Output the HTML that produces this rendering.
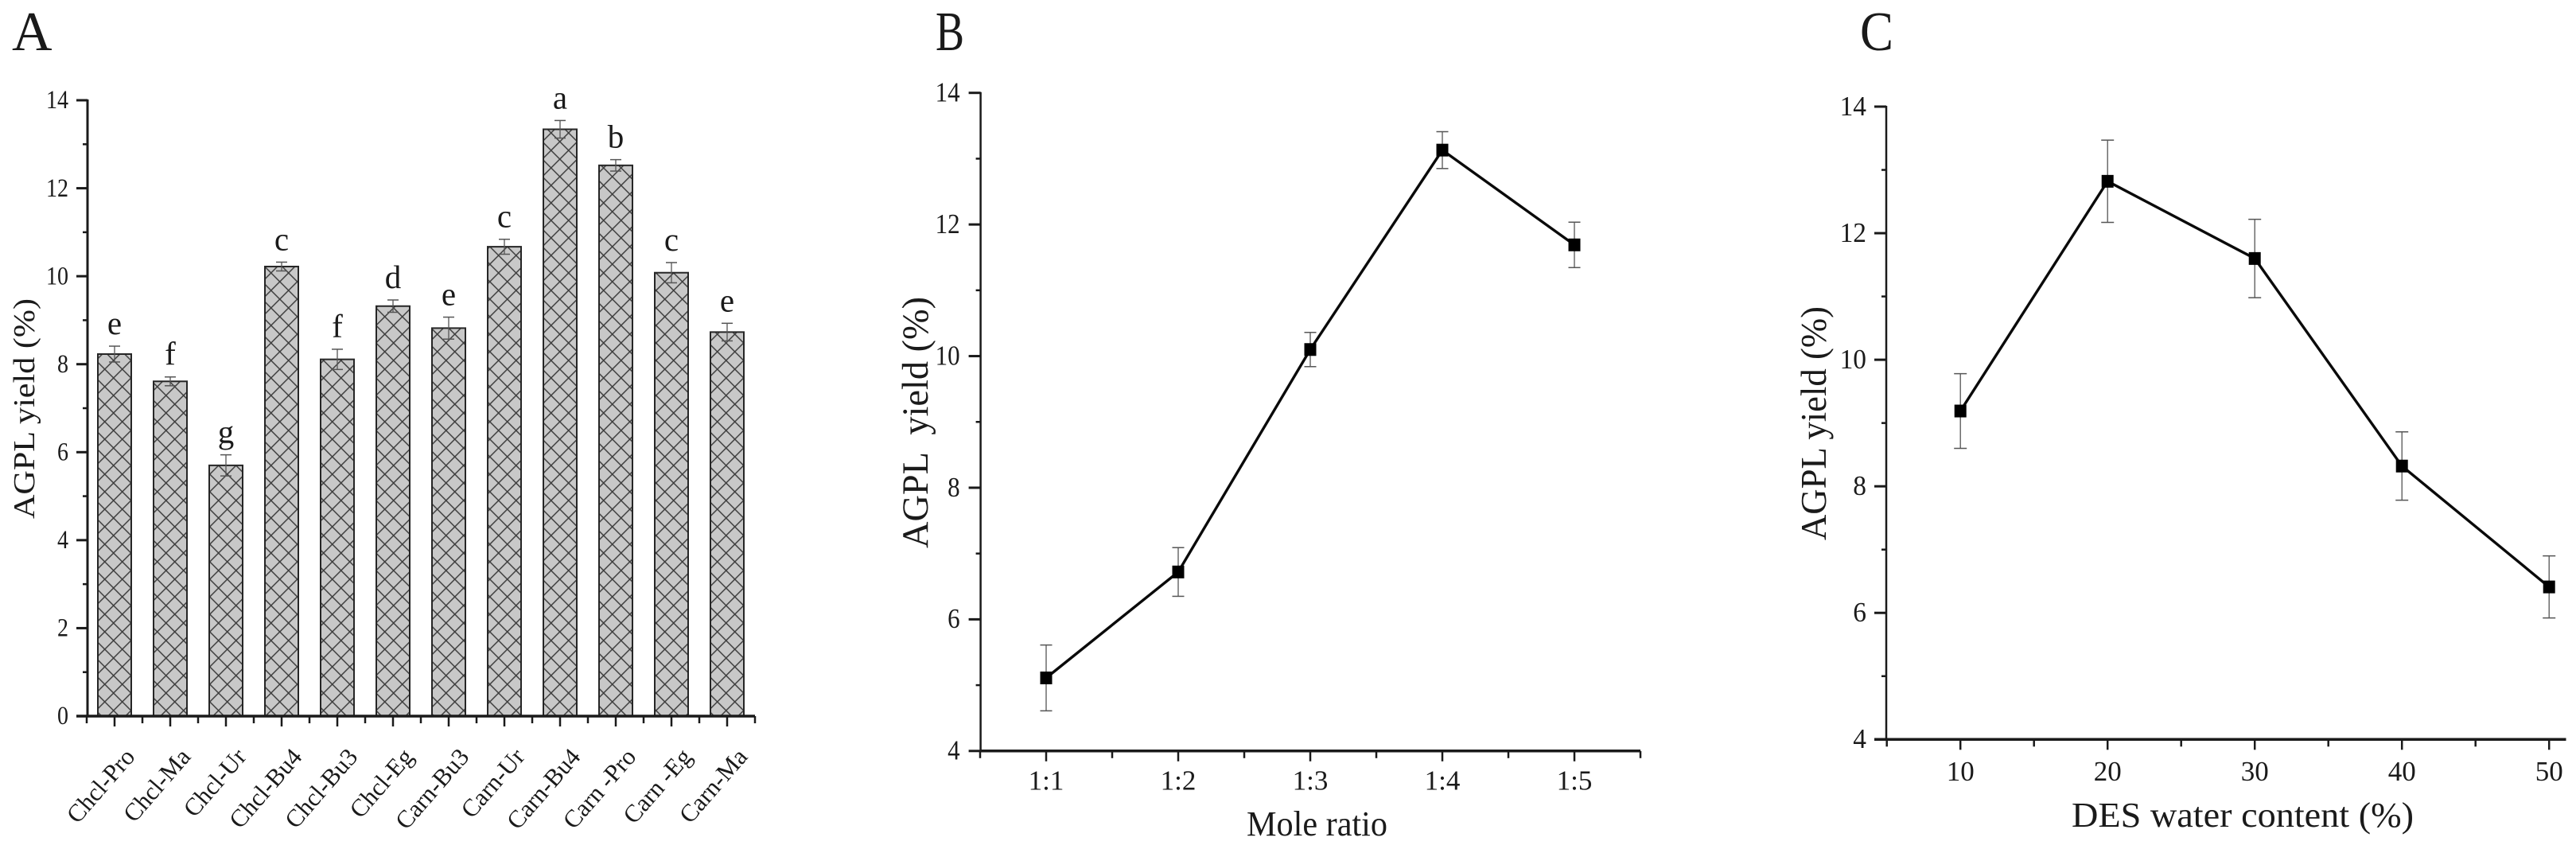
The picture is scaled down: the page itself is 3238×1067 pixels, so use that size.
<!DOCTYPE html>
<html>
<head>
<meta charset="utf-8">
<title>AGPL yield charts</title>
<style>
html,body{margin:0;padding:0;background:#fff;}
svg{display:block;}
text{font-family:"Liberation Serif",serif;fill:#1a1a1a;}
</style>
</head>
<body>
<svg id="figure" width="3238" height="1067" viewBox="0 0 3238 1067" xmlns="http://www.w3.org/2000/svg">
  <defs>
    <pattern id="hatch" patternUnits="userSpaceOnUse" x="131.7" y="794" width="22" height="22">
      <rect width="22" height="22" fill="#c8c8c8"></rect>
      <path d="M-2,-2 L24,24 M24,-2 L-2,24" stroke="#3c3c3c" stroke-width="1.5" fill="none"></path>
    </pattern>
  </defs>
  <text x="15" y="63" font-size="70">A</text>
  <text x="1176" y="63" font-size="70" textLength="36" lengthAdjust="spacingAndGlyphs">B</text>
  <text x="2338" y="63" font-size="70" textLength="42" lengthAdjust="spacingAndGlyphs">C</text>
  <text transform="translate(43,652) rotate(-90)" font-size="38" textLength="277" lengthAdjust="spacingAndGlyphs">AGPL yield (%)</text>
  <text transform="translate(1166,689) rotate(-90)" font-size="47" textLength="316" lengthAdjust="spacingAndGlyphs" xml:space="preserve">AGPL  yield (%)</text>
  <text transform="translate(2295,679) rotate(-90)" font-size="45" textLength="294" lengthAdjust="spacingAndGlyphs">AGPL yield (%)</text>
  <text x="1567" y="1050" font-size="44" textLength="177" lengthAdjust="spacingAndGlyphs">Mole ratio</text>
  <text x="2604" y="1039" font-size="44" textLength="430" lengthAdjust="spacingAndGlyphs">DES water content (%)</text>
</svg>
<script>
// Panel A data
const barCategories = ["Chcl-Pro","Chcl-Ma","Chcl-Ur","Chcl-Bu4","Chcl-Bu3","Chcl-Eg","Carn-Bu3","Carn-Ur","Carn-Bu4","Carn -Pro","Carn -Eg","Carn-Ma"];
const barValues = [8.23,7.61,5.70,10.22,8.11,9.32,8.82,10.67,13.34,12.52,10.08,8.73];
const barErrors = [0.18,0.10,0.24,0.10,0.23,0.14,0.25,0.17,0.20,0.13,0.23,0.20];
const barLetters = ["e","f","g","c","f","d","e","c","a","b","c","e"];
const barYTicks = [0,2,4,6,8,10,12,14];
// Panel B data
const ratioCategories = ["1:1","1:2","1:3","1:4","1:5"];
const ratioValues = [5.11,6.72,10.10,13.13,11.69];
const ratioErrors = [0.50,0.37,0.26,0.28,0.345];
const ratioYTicks = [4,6,8,10,12,14];
// Panel C data
const waterCategories = ["10","20","30","40","50"];
const waterValues = [9.19,12.82,11.60,8.32,6.41];
const waterErrors = [0.59,0.65,0.62,0.54,0.49];
const waterYTicks = [4,6,8,10,12,14];

const svg = document.getElementById('figure');
const NS = 'http://www.w3.org/2000/svg';
function make(tag, attrs, parent) {
  const e = document.createElementNS(NS, tag);
  for (const k in attrs) e.setAttribute(k, attrs[k]);
  (parent || svg).appendChild(e);
  return e;
}
function line(x1, y1, x2, y2, color, width, parent) {
  return make('line', {x1, y1, x2, y2, stroke: color, 'stroke-width': width}, parent);
}
function label(str, x, y, size, anchor, parent) {
  const t = make('text', {x, y, 'font-size': size, 'text-anchor': anchor}, parent);
  t.textContent = str;
  return t;
}
function linearY(bottomValue, topValue, bottomPx, topPx) {
  return v => bottomPx + (v - bottomValue) * (topPx - bottomPx) / (topValue - bottomValue);
}
function bandX(firstPx, stepPx) {
  return i => firstPx + i * stepPx;
}

function drawYAxis(name, ticks, yScale, axisX, majorLen, minorLen, w, size, labelGap, textW) {
  const g = make('g', {});
  
  
  line(axisX, yScale(ticks[0]) + 1, axisX, yScale(ticks[ticks.length - 1]) - 1, '#1a1a1a', w, g);
  ticks.forEach((v, i) => {
    const y = yScale(v);
    line(axisX - majorLen, y, axisX, y, '#1a1a1a', 3, g);
    const t = label(String(v), axisX - labelGap, y + size * 0.31, size, 'end', g);
    t.setAttribute('textLength', String(v).length * textW);
    t.setAttribute('lengthAdjust', 'spacingAndGlyphs');
    if (i < ticks.length - 1) {
      const m = yScale((v + ticks[i + 1]) / 2);
      line(axisX - minorLen, m, axisX, m, '#1a1a1a', 2.5, g);
    }
  });
}

function drawXAxis(name, cats, xScale, y, leftPx, rightPx, size, baseline, step) {
  const g = make('g', {});
  
  
  line(leftPx, y, rightPx, y, '#1a1a1a', 3.5, g);
  cats.forEach((c, i) => {
    const x = xScale(i);
    line(x, y, x, y + 13, '#1a1a1a', 2.5, g);
    line(x - step / 2, y, x - step / 2, y + 9, '#1a1a1a', 2.5, g);
    if (baseline !== null) label(c, x, baseline, size, 'middle', g);
  });
  const last = xScale(cats.length - 1) + step / 2;
  line(last, y, last, y + 9, '#1a1a1a', 2.5, g);
}

function drawErr(x, y, errPx, cap, color, parent) {
  line(x, y - errPx, x, y + errPx, color, 1.3, parent);
  line(x - cap, y - errPx, x + cap, y - errPx, color, 1.5, parent);
  line(x - cap, y + errPx, x + cap, y + errPx, color, 1.5, parent);
}

function drawLine(name, values, errors, xScale, yScale, cap) {
  const g = make('g', {});
  
  
  const pts = values.map((v, i) => xScale(i) + ',' + yScale(v)).join(' ');
  const pl = make('polyline', {points: pts, fill: 'none', stroke: '#0a0a0a', 'stroke-width': 3.4, 'stroke-linejoin': 'miter'}, g);
  
  
  values.forEach((v, i) => {
    const x = xScale(i), y = yScale(v);
    const eg = make('g', {}, g);
    
    
    drawErr(x, y, y - yScale(v + errors[i]), cap, '#555', eg);
    const m = make('rect', {x: x - 7.5, y: y - 8, width: 15, height: 16, fill: '#000'}, g);
    
    
  });
}

// Panel A
const yA = linearY(0, 14, 900, 126);
const xA = bandX(144, 70);
const barWidth = 42;
const barsGroup = make('g', {});


barValues.forEach((v, i) => {
  const x = xA(i), top = yA(v);
  const r = make('rect', {x: x - barWidth / 2, y: top, width: barWidth, height: yA(0) - top, fill: 'url(#hatch)', stroke: '#262626', 'stroke-width': 2}, barsGroup);
  
  
  const eg = make('g', {}, barsGroup);
  
  
  drawErr(x, top, top - yA(v + barErrors[i]), 7, '#555', eg);
  const sig = label(barLetters[i], x, yA(v + barErrors[i]) - 15, 41, 'middle');
  
  
  const cat = make('text', {'font-size': 31, 'text-anchor': 'end', transform: 'translate(' + (x + 27) + ',952) rotate(-49)'});
  cat.textContent = barCategories[i];
  
  
});
drawYAxis('panel-a-y-axis', barYTicks, yA, 110, 14, 6, 3, 33, 24, 14);
drawXAxis('panel-a-x-axis', barCategories, xA, 900, 96, 949, 30, null, 70);

// Panel B
const yB = linearY(4, 14, 943.8, 116.7);
const xB = bandX(1315, 166);
drawYAxis('panel-b-y-axis', ratioYTicks, yB, 1232.6, 15, 6, 2.5, 35, 26, 15.5);
drawXAxis('panel-b-x-axis', ratioCategories, xB, 943.8, 1232.6, 2062, 35, 992.5, 166);
drawLine('panel-b-series', ratioValues, ratioErrors, xB, yB, 7.5);

// Panel C
const yC = linearY(4, 14, 929.3, 134);
const xC = bandX(2464.2, 185);
drawYAxis('panel-c-y-axis', waterYTicks, yC, 2371, 15, 6, 2.5, 35, 25, 16.7);
drawXAxis('panel-c-x-axis', waterCategories, xC, 929.3, 2356, 3225.5, 35, 981, 185);
drawLine('panel-c-series', waterValues, waterErrors, xC, yC, 8);
</script>
</body>
</html>
